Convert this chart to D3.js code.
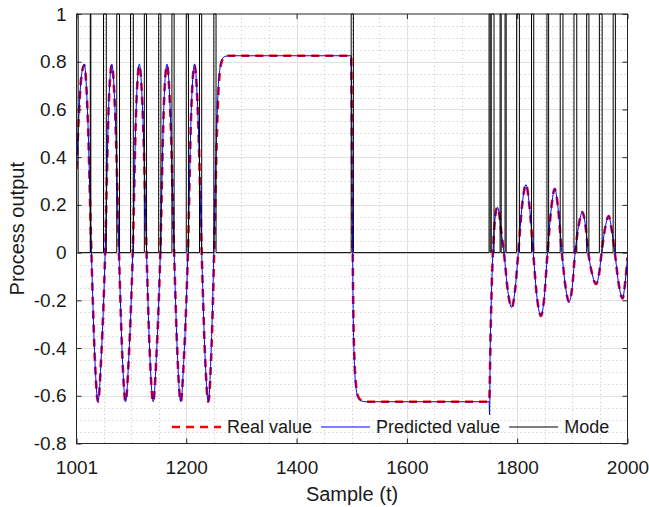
<!DOCTYPE html>
<html><head><meta charset="utf-8">
<script src="https://cdn.jsdelivr.net/npm/d3@7"></script>
<style>
body{margin:0;background:#fff;}
svg text{font-family:"Liberation Sans",Arial,Helvetica,sans-serif;fill:#1a1a1a;}
</style>
</head><body>
<svg id="c" width="649" height="507"></svg>
<script>
// ---- tick labels ----
const xTicks = [1001, 1200, 1400, 1600, 1800, 2000];
const yTicks = [-0.8, -0.6, -0.4, -0.2, 0, 0.2, 0.4, 0.6, 0.8, 1];

// ---- series (sample index, value) ----
const samples = [
  1001,1005,1009,1015,1021,1028,1034,1040,1046,1053,1059,1065,1071,1078,1084,1090,1096,1103,1109,1115,
  1121,1128,1134,1140,1146,1153,1159,1165,1171,1178,1184,1190,1196,1203,1209,1215,1221,1228,1234,1240,
  1245,1249,1252,1255,1258,1261,1265,1270,1278,1499,1500,1501,1502,1503,1505,1508,1512,1518,1526,1749,
  1750,1751,1752,1754,1756,1759,1762,1764,1767,1771,1776,1783,1790,1796,1802,1809,1816,1822,1829,1836,
  1843,1849,1855,1862,1868,1874,1881,1888,1894,1900,1905,1912,1918,1924,1929,1936,1943,1949,1953,1960,
  1966,1971,1977,1984,1991,1996,2000
];
const realValues = [
  0.35,0.56,0.72,0.785,0.59,0,-0.43,-0.625,-0.43,0,0.59,0.785,0.59,0,-0.43,-0.625,-0.43,0,0.59,0.785,
  0.59,0,-0.43,-0.625,-0.43,0,0.59,0.785,0.59,0,-0.43,-0.625,-0.43,0,0.59,0.785,0.59,0,-0.43,-0.625,
  -0.45,-0.15,0.15,0.45,0.66,0.76,0.805,0.82,0.825,0.825,0.6,0.25,-0.05,-0.27,-0.45,-0.56,-0.605,-0.62,-0.625,-0.625,
  -0.58,-0.45,-0.32,-0.13,0,0.12,0.18,0.19,0.17,0.09,0,-0.16,-0.23,-0.16,0,0.2,0.285,0.2,0,-0.19,
  -0.265,-0.19,0,0.19,0.267,0.19,0,-0.15,-0.206,-0.14,0,0.12,0.17,0.11,0,-0.09,-0.132,-0.08,0,0.11,
  0.153,0.1,0,-0.13,-0.192,-0.12,-0.02
];
const predValues = [
  0.35,0.56,0.72,0.79,0.59,0,-0.43,-0.625,-0.43,0,0.59,0.79,0.59,0,-0.43,-0.625,-0.43,0,0.59,0.79,
  0.59,0,-0.43,-0.625,-0.43,0,0.59,0.79,0.59,0,-0.43,-0.625,-0.43,0,0.59,0.79,0.59,0,-0.43,-0.625,
  -0.42,-0.1,0.22,0.5,0.69,0.77,0.81,0.822,0.825,0.825,0.58,0.2,-0.1,-0.3,-0.47,-0.57,-0.61,-0.622,-0.625,-0.625,
  -0.68,-0.4,-0.3,-0.12,0,0.12,0.18,0.19,0.17,0.09,0,-0.16,-0.23,-0.16,0,0.2,0.285,0.2,0,-0.19,
  -0.265,-0.19,0,0.19,0.267,0.19,0,-0.15,-0.206,-0.14,0,0.12,0.17,0.11,0,-0.09,-0.132,-0.08,0,0.11,
  0.153,0.1,0,-0.13,-0.192,-0.12,-0.02
];
// mode = 1 between each start and end sample, 0 otherwise
const modeStart = [1001,1026,1050,1074,1099,1124,1150,1174,1200,1224,1250,1499,1749,1753,1769,1778,1799,1826,1854,1878,1903,1926,1949,1974];
const modeEnd   = [1004,1027,1055,1079,1104,1128,1154,1178,1204,1228,1254,1503,1751,1758,1771,1780,1804,1830,1857,1883,1908,1930,1954,1978];

const legendLabels = ["Real value", "Predicted value", "Mode"];

// ---- layout ----
const m = {l:76.5, r:627.5, t:14, b:443.5};
const x = d3.scaleLinear().domain([1001, 2000]).range([m.l, m.r]);
const y = d3.scaleLinear().domain([-0.8, 1]).range([m.b, m.t]);
const svg = d3.select('#c');

// minor grid
const xMinor = d3.range(1050, 2000, 50).filter(v => !xTicks.includes(v));
const yMinor = d3.range(-15, 20).map(i => +(i*0.05).toFixed(2)).filter(v => !yTicks.some(t => Math.abs(t-v) < 1e-9));
const g = svg.append('g');
g.selectAll('.xm').data(xMinor).join('line')
  .attr('x1', d => Math.round(x(d))+0.5).attr('x2', d => Math.round(x(d))+0.5)
  .attr('y1', m.t).attr('y2', m.b)
  .attr('stroke', '#c4c4c4').attr('stroke-width', 1).attr('stroke-dasharray', '1,3');
g.selectAll('.ym').data(yMinor).join('line')
  .attr('y1', d => Math.round(y(d))+0.5).attr('y2', d => Math.round(y(d))+0.5)
  .attr('x1', m.l).attr('x2', m.r)
  .attr('stroke', '#c4c4c4').attr('stroke-width', 1).attr('stroke-dasharray', '1,3');
// major grid
g.selectAll('.xg').data(xTicks.slice(1, -1)).join('line')
  .attr('x1', d => Math.round(x(d))+0.5).attr('x2', d => Math.round(x(d))+0.5)
  .attr('y1', m.t).attr('y2', m.b).attr('stroke', '#e0e0e0').attr('stroke-width', 1);
g.selectAll('.yg').data(yTicks.slice(1, -1)).join('line')
  .attr('y1', d => Math.round(y(d))+0.5).attr('y2', d => Math.round(y(d))+0.5)
  .attr('x1', m.l).attr('x2', m.r).attr('stroke', '#e0e0e0').attr('stroke-width', 1);

// clip
svg.append('clipPath').attr('id', 'clip').append('rect')
  .attr('x', m.l).attr('y', m.t-2).attr('width', m.r-m.l).attr('height', m.b-m.t+4);
const plot = svg.append('g').attr('clip-path', 'url(#clip)');

const realData = samples.map((s, i) => [s, realValues[i]]);
const predData = samples.map((s, i) => [s, predValues[i]]);
const line = d3.line().x(d => x(d[0])).y(d => y(d[1])).curve(d3.curveMonotoneX);

plot.append('path').datum(realData).attr('d', line)
  .attr('fill', 'none').attr('stroke', '#ff0000').attr('stroke-width', 2.6)
  .attr('stroke-dasharray', '8,6');
plot.append('path').datum(predData).attr('d', line)
  .attr('fill', 'none').attr('stroke', '#0000ff').attr('stroke-width', 1);

// mode step line
const modePts = [];
let cur = 1001;
modeStart.forEach((s, i) => {
  const e = modeEnd[i];
  modePts.push([cur, 0], [s, 0], [s, 1], [e, 1], [e, 0]);
  cur = e;
});
modePts.push([cur, 0], [2000, 0]);
plot.append('path').datum(modePts)
  .attr('d', d3.line().x(d => x(d[0])).y(d => y(d[1])))
  .attr('fill', 'none').attr('stroke', '#000').attr('stroke-width', 1);

// axes
const axCol = '#262626';
const fmt = d => (d < 0 ? '-' : '') + String(Math.abs(+d.toFixed(1)));
const ax = svg.append('g');
const xb = ax.append('g').attr('transform', `translate(0,${m.b})`)
  .call(d3.axisBottom(x).tickValues(xTicks).tickSizeInner(-5).tickSizeOuter(0).tickPadding(17).tickFormat(d3.format('d')));
const xt = ax.append('g').attr('transform', `translate(0,${m.t})`)
  .call(d3.axisTop(x).tickValues(xTicks).tickSizeInner(-5).tickSizeOuter(0).tickFormat(''));
const yl = ax.append('g').attr('transform', `translate(${m.l},0)`)
  .call(d3.axisLeft(y).tickValues(yTicks).tickSizeInner(-5).tickSizeOuter(0).tickPadding(10).tickFormat(fmt));
const yr = ax.append('g').attr('transform', `translate(${m.r},0)`)
  .call(d3.axisRight(y).tickValues(yTicks).tickSizeInner(-5).tickSizeOuter(0).tickFormat(''));
ax.selectAll('.domain').remove();
ax.selectAll('.tick line').attr('stroke', axCol);
ax.selectAll('.tick text').attr('font-size', 19).attr('fill', '#1a1a1a')
  .style('font-family', '"Liberation Sans",Arial,sans-serif');
svg.append('rect').attr('x', m.l).attr('y', m.t).attr('width', m.r-m.l).attr('height', m.b-m.t)
  .attr('fill', 'none').attr('stroke', axCol).attr('stroke-width', 1);

// axis labels
svg.append('text').attr('x', (m.l+m.r)/2).attr('y', 501).attr('text-anchor', 'middle')
  .attr('font-size', 20).text('Sample (t)');
svg.append('text').attr('transform', `translate(24,${(m.t+m.b)/2}) rotate(-90)`)
  .attr('text-anchor', 'middle').attr('font-size', 20).text('Process output');

// legend
const leg = svg.append('g');
const legY = 427;
const styles = [
  {stroke:'#ff0000', w:2.6, dash:'8,6'},
  {stroke:'#0000ff', w:1, dash:null},
  {stroke:'#000000', w:1, dash:null}
];
let lx = 172;
legendLabels.forEach((lab, i) => {
  const st = styles[i];
  leg.append('line').attr('x1', lx).attr('x2', lx+49).attr('y1', legY).attr('y2', legY)
    .attr('stroke', st.stroke).attr('stroke-width', st.w).attr('stroke-dasharray', st.dash);
  const t = leg.append('text').attr('x', lx+55).attr('y', legY).attr('dy', '0.35em')
    .attr('font-size', 18).text(lab);
  lx = lx + 55 + t.node().getComputedTextLength() + 9;
});
</script>
</body></html>
